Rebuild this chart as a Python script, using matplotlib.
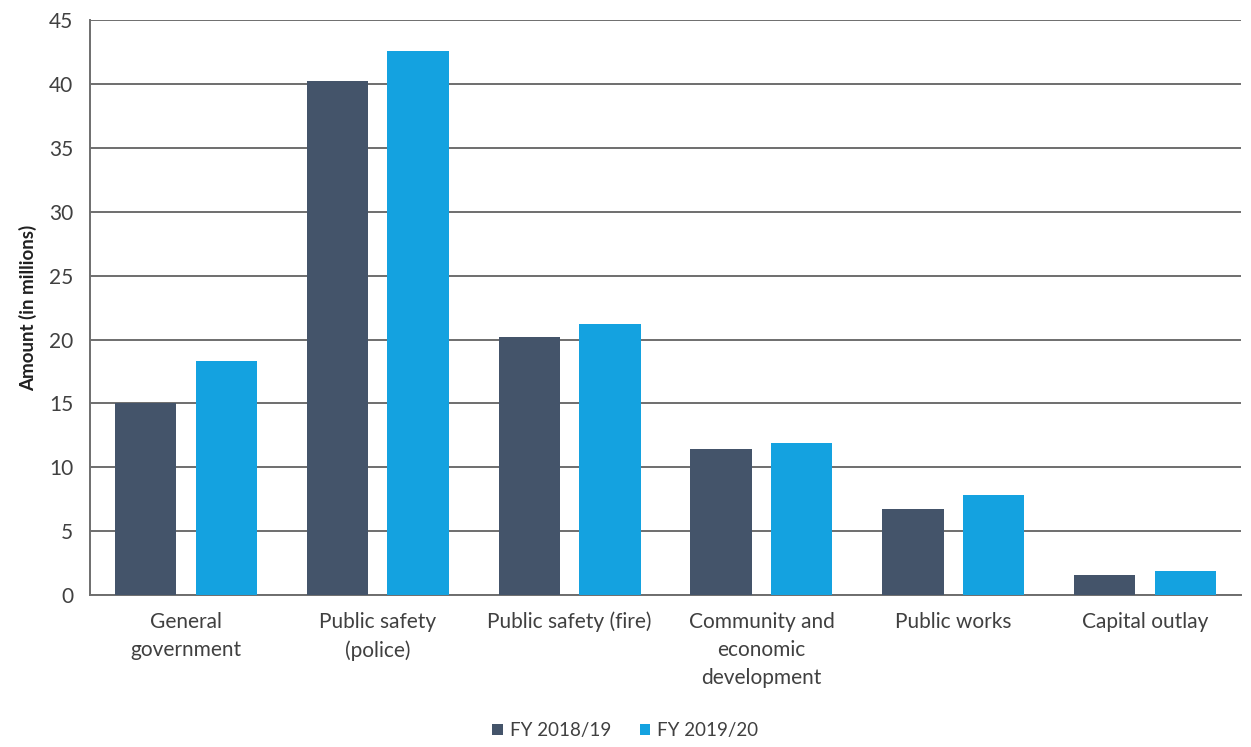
import numpy as np
import matplotlib
matplotlib.use("Agg")
import matplotlib.pyplot as plt

categories = ["General\ngovernment", "Public safety\n(police)", "Public safety (fire)",
              "Community and\neconomic\ndevelopment", "Public works", "Capital outlay"]
fy_2018_19 = [15.0, 40.2, 20.2, 11.4, 6.7, 1.6]
fy_2019_20 = [18.3, 42.6, 21.2, 11.9, 7.8, 1.9]
series_names = ["FY 2018/19", "FY 2019/20"]
yticks = [0, 5, 10, 15, 20, 25, 30, 35, 40, 45]

plt.rcParams['font.family'] = ['Lato', 'DejaVu Sans']

fig = plt.figure(figsize=(12.51, 7.47), dpi=100)
ax = fig.add_axes([0.072, 0.2035, 0.92, 0.7695])

x = np.arange(len(categories))
w = 0.32
ax.bar(x - 0.21, fy_2018_19, w, color="#44546a", label=series_names[0], zorder=3)
ax.bar(x + 0.21, fy_2019_20, w, color="#14a2e0", label=series_names[1], zorder=3)

ax.set_xlim(-0.5, len(categories) - 0.5)
ax.set_ylim(0, 45)
ax.set_yticks(yticks)
ax.yaxis.grid(True, color="#6e6e6e", linewidth=1.4, zorder=0)
ax.tick_params(axis="y", length=0, labelsize=15, labelcolor="#404040", pad=12)
ax.tick_params(axis="x", length=0, labelsize=15, labelcolor="#404040", pad=12)
ax.set_xticks(x)
ax.set_xticklabels(categories, linespacing=1.5)

for s in ["top", "right"]:
    ax.spines[s].set_visible(False)
for s in ["left", "bottom"]:
    ax.spines[s].set_color("#6e6e6e")
    ax.spines[s].set_linewidth(1.4)

ax.set_ylabel("Amount (in millions)", fontsize=13.5, fontweight="bold", color="#202020", labelpad=9)

fig.legend(loc="lower center", bbox_to_anchor=(0.5, -0.012), ncol=2, frameon=False,
           fontsize=13.5, handlelength=0.55, handleheight=0.55, columnspacing=1.5,
           handletextpad=0.4, labelcolor="#404040")

fig.savefig("out.png", dpi=100)
